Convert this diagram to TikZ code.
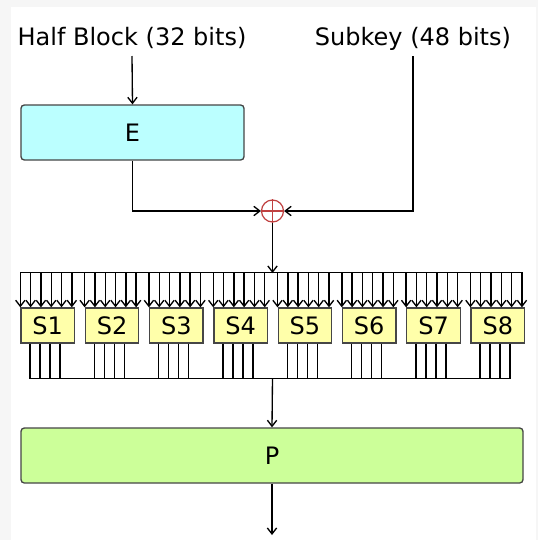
\documentclass[tikz,border=0pt]{standalone}
\usepackage{fontspec}
\setmainfont{DejaVu Sans}
\usetikzlibrary{arrows.meta,calc}
\newdimen\pxu \pxu=0.75pt
\definecolor{bggrey}{RGB}{246,246,246}
\definecolor{boxedge}{RGB}{70,70,70}
\definecolor{efill}{RGB}{187,255,255}
\definecolor{sfill}{RGB}{255,255,170}
\definecolor{pfill}{RGB}{204,255,153}
\definecolor{xorred}{RGB}{192,64,64}
\begin{document}
\begin{tikzpicture}[x=0.75pt,y=-0.75pt,
  >={Straight Barb[length=4.5pt,width=7pt]},
  line width=1pt,
  txt/.style={font=\fontsize{18}{21}\selectfont},
  lbl/.style={txt,inner sep=0pt,anchor=base},
  bigbox/.style={txt,draw=boxedge,rounded corners=2.5pt,inner sep=0pt,minimum height=55\pxu},
  sbox/.style={txt,draw=boxedge,fill=sfill,inner sep=0pt,minimum width=53.5\pxu,minimum height=35\pxu},
  wire/.style={draw=black}]
\useasboundingbox (0,0) rectangle (538,540);
\fill[bggrey] (0,0) rectangle (538,540);
\fill[white] (11,7) rectangle (536,540);

\node[lbl] (hb) at (132,45) {Half Block (32 bits)};
\node[lbl] (sk) at (413,45) {Subkey (48 bits)};

\node[bigbox,fill=efill,minimum width=223\pxu] (e) at (132.5,132.5) {E};
\node[circle,draw=xorred,line width=0.9pt,minimum size=22\pxu,inner sep=0pt] (xor) at (272.5,211) {};
\draw[xorred,line width=0.9pt] (xor.north) -- (xor.south) (xor.west) -- (xor.east);

\draw[->] ($(hb.base)+(0,11)$) -- (e.north);
\draw[->] ($(sk.base)+(0,11)$) |- (xor.east);
\draw[->] (e.south) |- (xor.west);

\foreach \i in {1,...,8}{
  \node[sbox] (s\i) at ({21+64.3*(\i-1)+26.75},325.5) {S\i};
}
\coordinate (busin) at (272.5,273);
\coordinate (busout) at (272.5,378);
\draw[->] (xor.south) -- (busin);
\draw ($(s1.north west)+(0,-35)$) -- ($(s8.north west)+(51.5,-35)$);
\foreach \i in {1,...,8}{
  \foreach \k in {0,...,5}{
    \draw[->] ($(s\i.north west)+(\k*10.3,-35)$) -- ($(s\i.north west)+(\k*10.3,0)$);
  }
  \foreach \k in {0,...,3}{
    \draw ($(s\i.south west)+(9.7+\k*10,0)$) -- ++(0,35);
  }
}
\draw ($(s1.south west)+(9.7,35)$) -- ($(s8.south west)+(39.7,35)$);

\node[bigbox,fill=pfill,minimum width=502\pxu] (p) at (272,455.5) {P};
\coordinate (out) at (272,535);
\draw[->] (busout) -- (p.north);
\draw[->] (p.south) -- (out);
\end{tikzpicture}
\end{document}
